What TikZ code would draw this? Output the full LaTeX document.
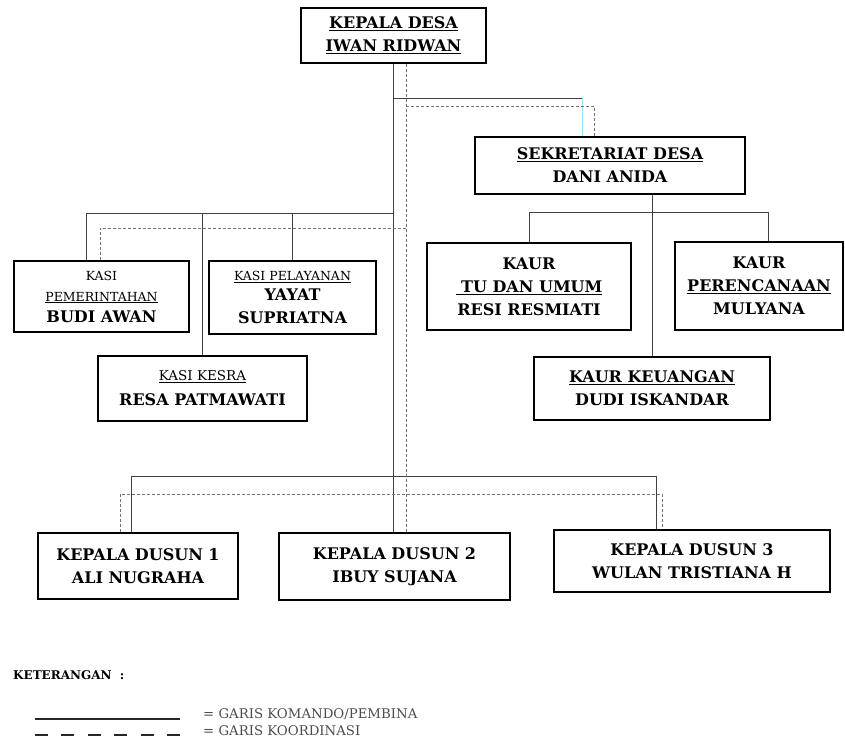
\documentclass[tikz,border=0pt]{standalone}
\usepackage{fontspec}
\setmainfont{DejaVu Serif}
\newcommand\smalltxt[1]{{\fontsize{12.5}{14}\selectfont\mdseries #1}}
\begin{document}
\begin{tikzpicture}[x=1pt,y=-1pt,
  box/.style={draw=black, line width=2.4pt, inner sep=0pt, align=center,
    font=\bfseries\fontsize{16}{23}\selectfont},
  cmd/.style={draw=black!75, line width=0.9pt},
  crd/.style={draw=black!55, line width=1pt, dash pattern=on 3pt off 2pt},
  lgtxt/.style={anchor=west, inner sep=0pt, text=black!70, font=\fontsize{13.3}{15}\selectfont}
]
\useasboundingbox (0,0) rectangle (845,739);

% boxes
\node[box, line width=1.2pt, minimum width=185pt, minimum height=55pt] (kd) at (393.5,35.5)
  {\underline{KEPALA DESA}\\\underline{IWAN RIDWAN}};
\node[box, minimum width=270pt, minimum height=57pt] (sek) at (610,165.5)
  {\underline{SEKRETARIAT DESA}\\DANI ANIDA};
\node[box, minimum width=204pt, minimum height=87pt] (tu) at (529,286.5)
  {KAUR\\\underline{\ TU DAN UMUM}\\RESI RESMIATI};
\node[box, minimum width=168pt, minimum height=88pt] (kp) at (759,286)
  {KAUR\\\underline{PERENCANAAN}\\MULYANA};
\node[box, minimum width=236pt, minimum height=63pt] (kk) at (652,388.5)
  {\underline{KAUR KEUANGAN}\\DUDI ISKANDAR};
\node[box, minimum width=175pt, minimum height=71pt] (kpem) at (101.5,296.5)
  {\smalltxt{KASI}\\[-2pt]\smalltxt{\underline{PEMERINTAHAN}}\\[-2pt]BUDI AWAN};
\node[box, minimum width=167pt, minimum height=73pt] (kpel) at (292.5,297.5)
  {\smalltxt{\underline{KASI PELAYANAN}}\\[-3pt]YAYAT\\SUPRIATNA};
\node[box, minimum width=209pt, minimum height=65pt] (kes) at (202.5,388.5)
  {{\fontsize{13.5}{14}\selectfont\mdseries\underline{KASI KESRA}}\\[2pt]RESA PATMAWATI};
\node[box, minimum width=200pt, minimum height=66pt] (d1) at (138,566)
  {KEPALA DUSUN 1\\ALI NUGRAHA};
\node[box, minimum width=231pt, minimum height=67pt] (d2) at (394.5,566.5)
  {KEPALA DUSUN 2\\IBUY SUJANA};
\node[box, minimum width=276pt, minimum height=62pt] (d3) at (692,561)
  {KEPALA DUSUN 3\\WULAN TRISTIANA H};

% helper coordinates
\coordinate (hA) at (0,98);
\coordinate (hB) at (0,106);
\coordinate (hL) at (0,213);
\coordinate (hLd) at (0,228);
\coordinate (hK) at (0,212);
\coordinate (hD) at (0,476);
\coordinate (hDd) at (0,494);
\coordinate (xsek) at (582,0);
\coordinate (xsekd) at (594,0);
\coordinate (xdash) at (406,0);
\coordinate (xpem) at (86,0);
\coordinate (xpemd) at (100,0);
\coordinate (xkp) at (768,0);
\coordinate (xd1) at (131,0);
\coordinate (xd1d) at (120,0);
\coordinate (xd3) at (656,0);
\coordinate (xd3d) at (662,0);

% command lines (solid)
\draw[cmd] (kd.south) -- (kd.south |- d2.north);
\draw[cmd] (kd.south |- hA) -- (xsek |- hA);
\draw[draw=blue!30!cyan!40, line width=1pt] (xsek |- hA) -- (xsek |- sek.north);
\draw[cmd] (kd.south |- hL) -- (xpem |- hL) -- (xpem |- kpem.north);
\draw[cmd] (kes.north |- hL) -- (kes.north);
\draw[cmd] (kpel.north |- hL) -- (kpel.north);
\draw[cmd] (sek.south -| kk.north) -- (kk.north);
\draw[cmd] (tu.north) -- (tu.north |- hK) -- (xkp |- hK) -- (xkp |- kp.north);
\draw[cmd] (xd1 |- d1.north) -- (xd1 |- hD) -- (xd3 |- hD) -- (xd3 |- d3.north);

% coordination lines (dashed)
\draw[crd] (xdash |- kd.south) -- (xdash |- d2.north);
\draw[crd] (xdash |- hB) -- (xsekd |- hB) -- (xsekd |- sek.north);
\draw[crd] (xdash |- hLd) -- (xpemd |- hLd) -- (xpemd |- kpem.north);
\draw[crd] (xd1d |- d1.north) -- (xd1d |- hDd) -- (xd3d |- hDd) -- (xd3d |- d3.north);

% legend
\node[anchor=west, inner sep=0pt, font=\bfseries\fontsize{12}{14}\selectfont] (ket) at (13,675) {KETERANGAN\ \ :};
\coordinate (l1a) at (35,719);
\coordinate (l1b) at (180,719);
\coordinate (l2a) at (35,735);
\coordinate (l2b) at (180,735);
\draw[black!85, line width=2.6pt] (l1a) -- (l1b);
\draw[black!85, line width=2.6pt, dash pattern=on 13pt off 13.4pt] (l2a) -- (l2b);
\node[lgtxt] (lg1) at (203,714) {= GARIS KOMANDO/PEMBINA};
\node[lgtxt] (lg2) at (203,731) {= GARIS KOORDINASI};
\end{tikzpicture}
\end{document}
